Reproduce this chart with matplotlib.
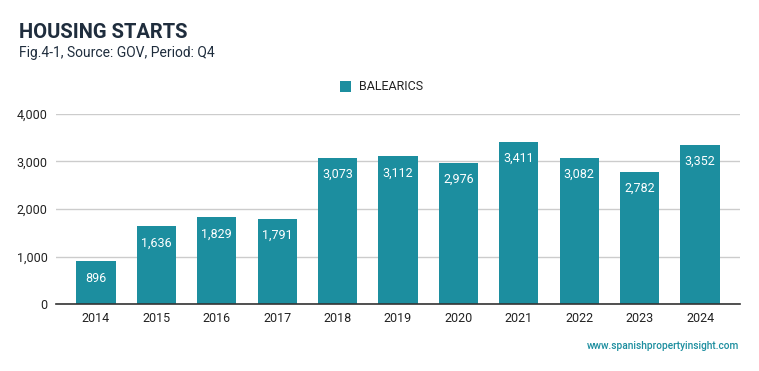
import matplotlib
matplotlib.use("Agg")
import matplotlib.pyplot as plt
from matplotlib.patches import Rectangle

years = ["2014", "2015", "2016", "2017", "2018", "2019", "2020", "2021", "2022", "2023", "2024"]
values = [896, 1636, 1829, 1791, 3073, 3112, 2976, 3411, 3082, 2782, 3352]
series_name = "BALEARICS"
yticks = [0, 1000, 2000, 3000, 4000]

bar_color = "#1c8e9f"
plt.rcParams['font.family'] = ['Roboto', 'DejaVu Sans']

fig = plt.figure(figsize=(7.59, 3.71), dpi=100)
ax = fig.add_axes([56/759, 1-304/371, (740-56)/759, (304-114)/371])

x = list(range(len(years)))
bars = ax.bar(x, values, width=0.65, color=bar_color, zorder=3)
for xi, v in zip(x, values):
    ax.annotate(f"{v:,}", xy=(xi, v), xytext=(0, -12), textcoords="offset points",
                ha="center", va="center", color="white", fontsize=9, zorder=4)

ax.set_xlim(-0.66, 10.66)
ax.set_ylim(0, 4000)
ax.set_yticks(yticks)
ax.set_yticklabels([f"{t:,}" for t in yticks])
ax.set_xticks(x)
ax.set_xticklabels(years)
ax.tick_params(axis="both", length=0, labelsize=9, labelcolor="#222222")
ax.tick_params(axis="y", pad=6)
ax.tick_params(axis="x", pad=6)
ax.grid(axis="y", color="#cccccc", linewidth=1, zorder=0)
for s in ["top", "right", "left"]:
    ax.spines[s].set_visible(False)
ax.spines["bottom"].set_color("#333333")
ax.spines["bottom"].set_linewidth(1.2)
ax.spines["bottom"].set_zorder(5)

fig.text(19/759, 1-38/371, "HOUSING STARTS", fontsize=14.5, fontweight="bold",
         color="#1f2d3d", ha="left", va="baseline")
fig.text(19/759, 1-57/371, "Fig.4-1, Source: GOV, Period: Q4", fontsize=10,
         color="#1f2d3d", ha="left", va="baseline")

# legend
fig.patches.append(Rectangle((340/759, 1-92/371), 11/759, 11/371, transform=fig.transFigure,
                             facecolor=bar_color, edgecolor="none"))
fig.text(359/759, 1-86.5/371, series_name, fontsize=9, color="#222222", ha="left", va="center")

fig.text(739/759, 1-346/371, "www.spanishpropertyinsight.com", fontsize=7.3,
         fontweight="medium", color="#1c8e9f", ha="right", va="center")

fig.savefig("out.png", dpi=100)
